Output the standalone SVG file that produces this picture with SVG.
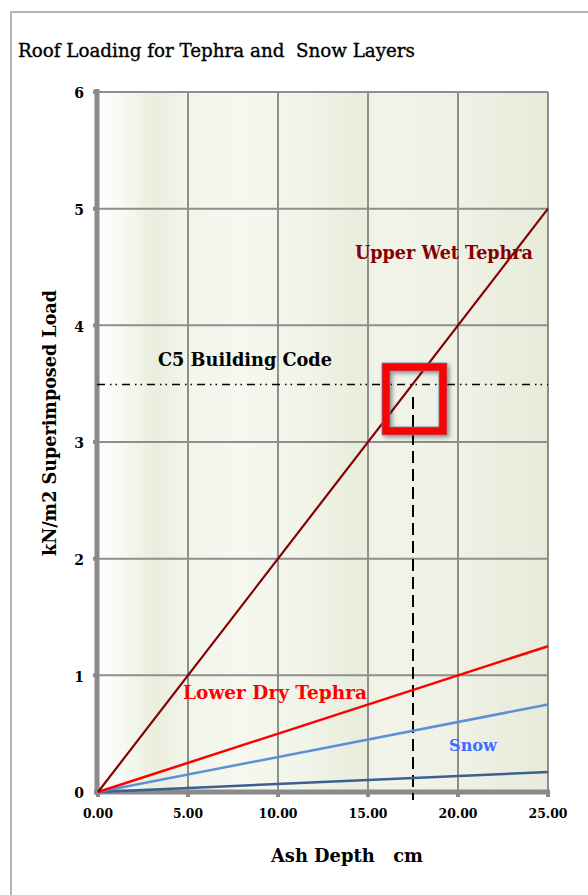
<svg xmlns="http://www.w3.org/2000/svg" width="588" height="895" viewBox="0 0 588 895">
<style>
  .grid{stroke:#8E8E8E;stroke-width:2;fill:none}
  .axis{stroke:#8A8A8A;stroke-width:5;fill:none}
  .tick{stroke:#8A8A8A;stroke-width:4;fill:none}
  .serif{font-family:"DejaVu Serif","Liberation Serif",serif}
  .lbl{font-family:"DejaVu Serif","Liberation Serif",serif;font-weight:bold}
  .xt{font-family:"DejaVu Serif","Liberation Serif",serif;font-weight:bold;font-size:13px;fill:#000;text-anchor:middle}
  .yt{font-family:"DejaVu Serif","Liberation Serif",serif;font-weight:bold;font-size:14px;fill:#000;text-anchor:end}
  .pre{white-space:pre}
</style>
<defs>
  <linearGradient id="bg" x1="0" y1="0" x2="1" y2="0">
    <stop offset="0" stop-color="#FFFFFF"/>
    <stop offset="0.06" stop-color="#F7F9F2"/>
    <stop offset="0.13" stop-color="#E9EEDD"/>
    <stop offset="0.2" stop-color="#F2F5EA"/>
    <stop offset="0.32" stop-color="#F6F8F0"/>
    <stop offset="0.46" stop-color="#F1F4E8"/>
    <stop offset="0.58" stop-color="#E9EDDC"/>
    <stop offset="0.63" stop-color="#F2F4EA"/>
    <stop offset="0.8" stop-color="#EEF1E4"/>
    <stop offset="1" stop-color="#E7EBDA"/>
  </linearGradient>
  <filter id="shadow" x="-20%" y="-20%" width="150%" height="150%">
    <feDropShadow dx="2" dy="2" stdDeviation="2" flood-color="#000" flood-opacity="0.4"/>
  </filter>
</defs>
<rect x="0" y="0" width="588" height="895" fill="#FFFFFF"/>
<g id="frame">
  <path d="M11,895 V12 H588" fill="none" stroke="#9C9C9C" stroke-width="1.5"/>
</g>
<g id="title">
  <text class="serif pre" x="18" y="57" font-size="18" fill="#000" stroke="#000" stroke-width="0.35" textLength="397" lengthAdjust="spacingAndGlyphs">Roof Loading for Tephra and  Snow Layers</text>
</g>
<g id="plot-area">
  <rect x="97" y="92" width="451" height="700" fill="url(#bg)"/>
  <g class="grid">
    <line x1="188" y1="92" x2="188" y2="792"/>
    <line x1="278" y1="92" x2="278" y2="792"/>
    <line x1="368" y1="92" x2="368" y2="792"/>
    <line x1="458" y1="92" x2="458" y2="792"/>
    <line x1="548" y1="92" x2="548" y2="792"/>
    <line x1="97" y1="92" x2="548" y2="92"/>
    <line x1="97" y1="208.7" x2="548" y2="208.7"/>
    <line x1="97" y1="325.3" x2="548" y2="325.3"/>
    <line x1="97" y1="442" x2="548" y2="442"/>
    <line x1="97" y1="558.7" x2="548" y2="558.7"/>
    <line x1="97" y1="675.3" x2="548" y2="675.3"/>
  </g>
  <g class="tick">
    <line x1="93" y1="92" x2="96" y2="92"/>
    <line x1="93" y1="208.7" x2="96" y2="208.7"/>
    <line x1="93" y1="325.3" x2="96" y2="325.3"/>
    <line x1="93" y1="442" x2="96" y2="442"/>
    <line x1="93" y1="558.7" x2="96" y2="558.7"/>
    <line x1="93" y1="675.3" x2="96" y2="675.3"/>
    <line x1="98" y1="793" x2="98" y2="797"/>
    <line x1="188" y1="793" x2="188" y2="797"/>
    <line x1="278" y1="793" x2="278" y2="797"/>
    <line x1="368" y1="793" x2="368" y2="797"/>
    <line x1="458" y1="793" x2="458" y2="797"/>
    <line x1="548" y1="793" x2="548" y2="797"/>
  </g>
  <line class="axis" x1="97" y1="89" x2="97" y2="794.5"/>
  <line class="axis" x1="94" y1="792" x2="550" y2="792"/>
</g>
<g id="y-axis-labels">
  <text class="yt" x="84" y="98">6</text>
  <text class="yt" x="84" y="215">5</text>
  <text class="yt" x="84" y="331.5">4</text>
  <text class="yt" x="84" y="448">3</text>
  <text class="yt" x="84" y="565">2</text>
  <text class="yt" x="84" y="681.5">1</text>
  <text class="yt" x="84" y="798">0</text>
  <text class="lbl" transform="translate(56,423) rotate(-90)" x="0" y="0" font-size="18" text-anchor="middle" fill="#000" textLength="266" lengthAdjust="spacingAndGlyphs">kN/m2 Superimposed Load</text>
</g>
<g id="x-axis-labels">
  <text class="xt" x="98" y="818" textLength="30" lengthAdjust="spacingAndGlyphs">0.00</text>
  <text class="xt" x="188" y="818" textLength="30" lengthAdjust="spacingAndGlyphs">5.00</text>
  <text class="xt" x="278" y="818" textLength="39" lengthAdjust="spacingAndGlyphs">10.00</text>
  <text class="xt" x="368" y="818" textLength="39" lengthAdjust="spacingAndGlyphs">15.00</text>
  <text class="xt" x="458" y="818" textLength="39" lengthAdjust="spacingAndGlyphs">20.00</text>
  <text class="xt" x="548" y="818" textLength="39" lengthAdjust="spacingAndGlyphs">25.00</text>
  <text class="lbl pre" x="271" y="862" font-size="19" fill="#000" textLength="152" lengthAdjust="spacingAndGlyphs">Ash Depth   cm</text>
</g>
<g id="connectors">
  <line id="building-code-line" x1="97" y1="384.5" x2="548" y2="384.5" stroke="#000" stroke-width="1.3" stroke-dasharray="8,5,1.5,4,1.5,5"/>
  <line id="depth-marker" x1="413" y1="397" x2="413" y2="800" stroke="#000" stroke-width="2" stroke-dasharray="12,6"/>
  <line id="dark-blue-series" x1="98" y1="792" x2="548" y2="772" stroke="#3A5F90" stroke-width="2.5"/>
  <line id="snow-series" x1="98" y1="792" x2="548" y2="704.5" stroke="#5B90D8" stroke-width="2.5"/>
  <line id="lower-dry-series" x1="98" y1="792" x2="548" y2="646.2" stroke="#FF0000" stroke-width="2.5"/>
  <line id="upper-wet-series" x1="98" y1="792" x2="548" y2="208.7" stroke="#850000" stroke-width="2.2"/>
</g>
<g id="highlight-box">
  <path d="M382,363 H447 V435 H382 Z M390,371 V427 H439 V371 Z" fill="#FF0000" fill-rule="evenodd" stroke="#6F82A6" stroke-width="0.8" filter="url(#shadow)"/>
</g>
<g id="label-building-code">
  <text class="lbl" x="158" y="366" font-size="18" fill="#000" textLength="174" lengthAdjust="spacingAndGlyphs">C5 Building Code</text>
</g>
<g id="label-upper-wet">
  <text class="lbl" x="355" y="259" font-size="18" fill="#850000" textLength="178" lengthAdjust="spacingAndGlyphs">Upper Wet Tephra</text>
</g>
<g id="label-lower-dry">
  <text class="lbl" x="183" y="699" font-size="18" fill="#FF0000" textLength="184" lengthAdjust="spacingAndGlyphs">Lower Dry Tephra</text>
</g>
<g id="label-snow">
  <text class="lbl" x="449" y="751" font-size="17" fill="#3D6EFF" textLength="48" lengthAdjust="spacingAndGlyphs">Snow</text>
</g>
</svg>
